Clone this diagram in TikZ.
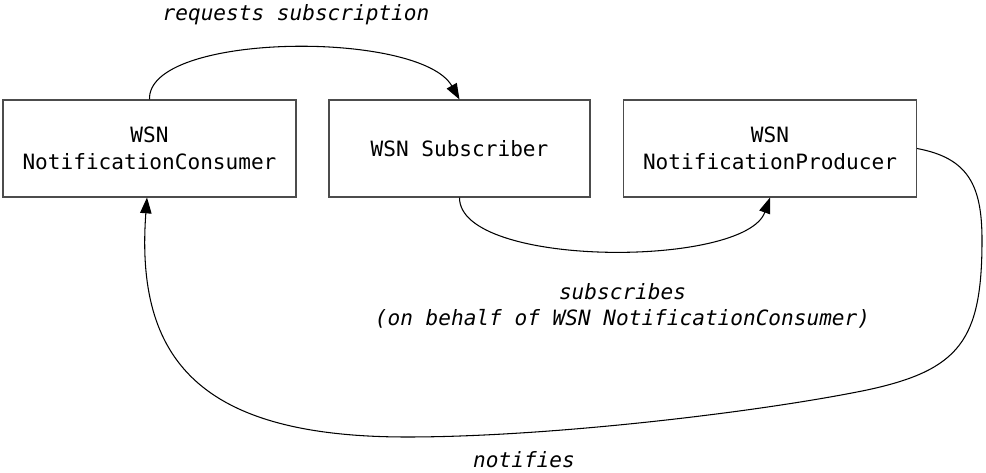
\documentclass[tikz,border=0pt]{standalone}
\usepackage{fontspec}
\setmonofont{DejaVu Sans Mono}
\usepackage{tikz}
\usetikzlibrary{arrows.meta}

\tikzset{
  wsnbox/.style={shape=rectangle,draw=black!70,line width=0.6pt,minimum width=5.86cm,minimum height=1.94cm,align=center,font=\ttfamily\fontsize{12}{15}\selectfont},
  msglabel/.style={align=center,font=\ttfamily\itshape\fontsize{12}{15}\selectfont},
  msgarrow/.style={draw=black,line width=0.6pt,-{Triangle[length=9pt,width=6.5pt]}}
}

\begin{document}
\begin{tikzpicture}
\useasboundingbox (0,0) rectangle (19.72,9.44);
\node[wsnbox] (consumer) at (2.99,6.47) {WSN\\NotificationConsumer};
\node[wsnbox,minimum width=5.22cm] (subscriber) at (9.19,6.47) {WSN Subscriber};
\node[wsnbox] (producer) at (15.4,6.47) {WSN\\NotificationProducer};
\node[msglabel] (requests) at (5.92,9.14) {requests subscription};
\node[msglabel] (subscribes) at (12.45,3.32) {subscribes\\(on behalf of WSN NotificationConsumer)};
\node[msglabel] (notifies) at (10.48,0.24) {notifies};
\path [msgarrow] (consumer.north) .. controls (2.94,8.8) and (8.4,8.84) .. (subscriber.north);
\path [msgarrow] (subscriber.south) .. controls (9.18,4.08) and (14.9,4.08) .. (producer.south);
\path [msgarrow] (producer.east) .. controls (19.36,6.28) and (19.64,5.74) .. (19.64,4.64)
  .. controls (19.64,2.64) and (19.2,2.04) .. (17.34,1.64)
  .. controls (15.2,1.2) and (11.0,0.7) .. (8.14,0.7)
  .. controls (4.0,0.7) and (2.7,2.24) .. ([xshift=-0.05cm]consumer.south);
\end{tikzpicture}
\end{document}
